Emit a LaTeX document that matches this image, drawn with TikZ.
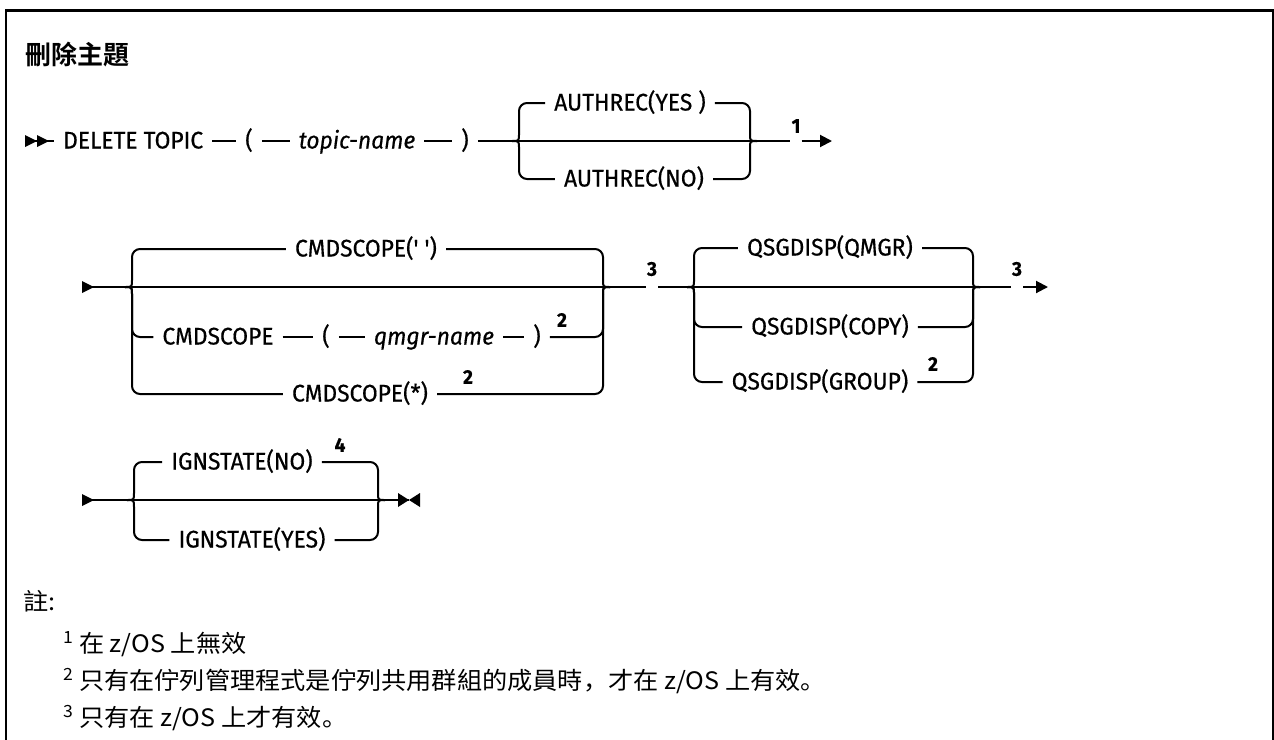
\documentclass[tikz,border=0pt]{standalone}
\usepackage{fontspec}
\usetikzlibrary{arrows.meta,calc}
\newfontfamily\railfont{Fira Sans}[FakeStretch=0.95,FakeBold=0.5]
\newfontfamily\cjkfont{Noto Sans CJK TC}[FakeStretch=1.05]
\newfontfamily\cjkpunct{Noto Sans CJK SC}[FakeStretch=1.05]
\newfontfamily\titlefont{Noto Sans CJK TC Bold}

% one optional branch of a choice: left tip, first node, last node, right tip, -1 up / 1 down
\newcommand{\railalt}[5]{%
  \draw[rail] (#1) .. controls ($(#1)+(7,0)$) .. ($(#1)+(7,#5*7)$);
  \draw[rail,rounded corners=8pt] ($(#1)+(7,#5*7)$) |- (#2.west);
  \draw[rail,rounded corners=8pt] (#3.east) -| ($(#4)+(-7,#5*7)$);
  \draw[rail] ($(#4)+(-7,#5*7)$) .. controls ($(#4)+(-7,0)$) .. (#4);}

\begin{document}
\begin{tikzpicture}[x=1pt,y=-1pt,
  rail/.style={line width=2pt},
  kw/.style={inner xsep=9pt, inner ysep=0pt, text height=17pt, text depth=2pt,
    font=\railfont\fontsize{24}{28}\selectfont},
  var/.style={kw, font=\railfont\itshape\fontsize{24}{28}\selectfont},
  fn/.style={inner sep=1pt, font=\railfont\bfseries\fontsize{20}{20}\selectfont},
  note/.style={anchor=west, inner sep=0pt, font=\cjkfont\fontsize{24}{28}\selectfont},
  tip/.style={-{Triangle[length=12pt,width=12pt]}}]
\useasboundingbox (0,0) rectangle (1274,739);
\draw[line width=2.5pt] (6.2,745) -- (6.2,10.7) -- (1272.8,10.7) -- (1272.8,745);
\node[anchor=west, inner sep=0pt, font=\titlefont\fontsize{26}{30}\selectfont] (title) at (25,55) {刪除主題};

% row 1
\coordinate (s1) at (25,141);
\fill ($(s1)+(0,-6)$) -- ++(12,6) -- ++(-12,6) -- cycle;
\fill ($(s1)+(12,-6)$) -- ++(12,6) -- ++(-12,6) -- cycle;
\node[kw, anchor=west] (del) at (54,141) {DELETE TOPIC};
\node[kw] (lp1) at (249,141) {(};
\node[var] (topic) at (357,141) {topic-name};
\node[kw] (rp1) at (465,141) {)};
\coordinate (b1l) at (512,141);
\coordinate (b1r) at (757,141);
\node[kw] (ayes) at (630,103) {AUTHREC(YES )};
\node[kw] (ano) at (634,179) {AUTHREC(NO)};
\node[fn] (f1) at (796,126) {1};
\coordinate (e1) at (832,141);
\draw[rail] (s1) -- (del) -- (lp1) -- (topic) -- (rp1) -- (b1l) -- (b1r) -- (f1.west |- b1r);
\draw[rail,tip] (f1.east |- b1r) -- (e1);
\railalt{b1l}{ayes}{ayes}{b1r}{-1}
\railalt{b1l}{ano}{ano}{b1r}{1}

% row 2
\coordinate (s2) at (82,287);
\fill ($(s2)+(0,-6)$) -- ++(12,6) -- ++(-12,6) -- cycle;
\coordinate (b2l) at (125,287);
\coordinate (b2r) at (610,287);
\node[kw] (cdef) at (366,249) {CMDSCOPE(' ')};
\node[kw] (cmd) at (218,337) {CMDSCOPE};
\node[kw] (clp) at (326,337) {(};
\node[var] (qmgr) at (434,337) {qmgr-name};
\node[kw] (crp) at (537,337) {)};
\node[fn] (f2a) at (562,320) {2};
\node[kw] (cstar) at (360,394) {CMDSCOPE(*)};
\node[fn] (f2b) at (468,377) {2};
\node[fn] (f3a) at (652,269) {3};
\coordinate (b3l) at (687,287);
\coordinate (b3r) at (980,287);
\node[kw] (qmgr2) at (830,248) {QSGDISP(QMGR)};
\node[kw] (qcopy) at (830,327) {QSGDISP(COPY)};
\node[kw] (qgroup) at (820,382) {QSGDISP(GROUP)};
\node[fn] (f2c) at (933,364) {2};
\node[fn] (f3b) at (1017,269) {3};
\coordinate (e2) at (1048,287);
\draw[rail] (s2) -- (b2l) -- (b2r) -- (f3a.west |- b2r);
\draw[rail] (cmd) -- (clp) -- (qmgr) -- (crp);
\railalt{b2l}{cdef}{cdef}{b2r}{-1}
\railalt{b2l}{cmd}{crp}{b2r}{1}
\railalt{b2l}{cstar}{cstar}{b2r}{1}
\draw[rail] (f3a.east |- b2r) -- (b3l) -- (b3r) -- (f3b.west |- b3r);
\draw[rail,tip] (f3b.east |- b3r) -- (e2);
\railalt{b3l}{qmgr2}{qmgr2}{b3r}{-1}
\railalt{b3l}{qcopy}{qcopy}{b3r}{1}
\railalt{b3l}{qgroup}{qgroup}{b3r}{1}

% row 3
\coordinate (s3) at (82,500);
\fill ($(s3)+(0,-6)$) -- ++(12,6) -- ++(-12,6) -- cycle;
\coordinate (b4l) at (127,500);
\coordinate (b4r) at (385,500);
\node[kw] (ino) at (242,462) {IGNSTATE(NO)};
\node[kw] (iyes) at (252,540) {IGNSTATE(YES)};
\node[fn] (f4) at (340,445) {4};
\coordinate (e3) at (409,500);
\draw[rail] (s3) -- (b4l) -- (b4r) -- (e3);
\railalt{b4l}{ino}{ino}{b4r}{-1}
\railalt{b4l}{iyes}{iyes}{b4r}{1}
\fill (e3) -- ++(-11,-7) -- ++(0,14) -- cycle;
\fill (e3) -- ++(11,-7) -- ++(0,14) -- cycle;

% notes
\node[note] (nlab) at (23,601) {註:};
\node[note] (n1) at (63,644) {\textsuperscript{1} 在 z/OS 上無效};
\node[note] (n2) at (63,681) {\textsuperscript{2} 只有在佇列管理程式是佇列共用群組的成員時{\cjkpunct ，}才在 z/OS 上有效{\cjkpunct 。}};
\node[note] (n3) at (63,718) {\textsuperscript{3} 只有在 z/OS 上才有效{\cjkpunct 。}};
\end{tikzpicture}
\end{document}
